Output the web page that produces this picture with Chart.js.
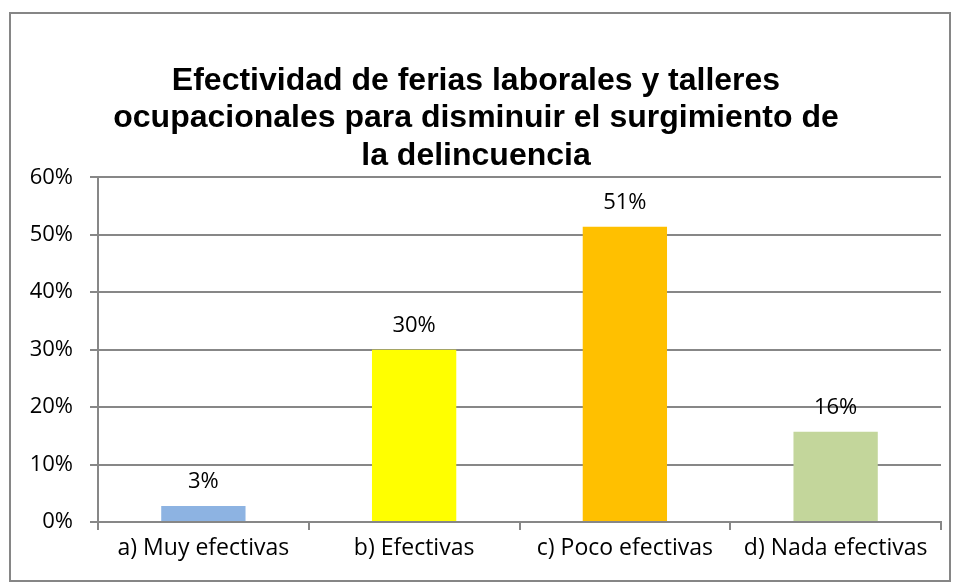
<!DOCTYPE html>
<html>
<head>
<meta charset="utf-8">
<script src="https://cdn.jsdelivr.net/npm/chart.js@4.4.0/dist/chart.umd.min.js"></script>
<style>
    body { margin: 0; background: #fff; }
    #frame {
        position: absolute; left: 9px; top: 12px;
        width: 938px; height: 566px;
        border: 2px solid #868686;
        background: #fff;
    }
</style>
</head>
<body>
<div id="frame"><canvas id="effChart"></canvas></div>
<script>
// categories and values (percent)
var categories = ['a) Muy efectivas', 'b) Efectivas', 'c) Poco efectivas', 'd) Nada efectivas'];
var values = [2.8, 30, 51.4, 15.7];
var barColours = ['#8DB3E2', '#FFFF00', '#FFC000', '#C3D69B'];
var yTicks = [0, 10, 20, 30, 40, 50, 60];
var titleLines = [
    'Efectividad de ferias laborales y talleres',
    'ocupacionales para disminuir el surgimiento de',
    'la delincuencia'
];

var gridGrey = '#878787';

// draw the value over each bar
var valueLabels = {
    id: 'valueLabels',
    afterDatasetsDraw: function(chart) {
        var ctx = chart.ctx;
        var meta = chart.getDatasetMeta(0);
        ctx.save();
        ctx.font = "22px 'Open Sans', sans-serif";
        ctx.fillStyle = '#000';
        ctx.textAlign = 'center';
        ctx.textBaseline = 'middle';
        meta.data.forEach(function(bar, i) {
            ctx.fillText(Math.round(values[i]) + '%', bar.x, bar.y - 24);
        });
        ctx.restore();
    }
};

var ctx = document.getElementById('effChart');
var myChart = new Chart(ctx, {
    type: 'bar',
    data: {
        labels: categories,
        datasets: [{
            data: values,
            backgroundColor: barColours,
            borderWidth: 0,
            barPercentage: 0.4,
            categoryPercentage: 1
        }]
    },
    options: {
        responsive: true,
        maintainAspectRatio: false,
        animation: false,
        layout: { padding: { left: 0, right: 8, top: 0, bottom: 0 } },
        plugins: {
            legend: { display: false },
            tooltip: { enabled: false },
            title: {
                display: true,
                text: titleLines,
                color: '#000',
                font: { family: "'Liberation Sans', Arial, sans-serif", size: 32, weight: 'bold', lineHeight: 1.18 },
                padding: { top: 48, bottom: 2 }
            }
        },
        scales: {
            x: {
                grid: { display: true, drawOnChartArea: false, drawTicks: true, tickLength: 8, color: gridGrey, lineWidth: 2 },
                border: { display: true, color: gridGrey, width: 2 },
                ticks: { color: '#000', font: { family: "'Open Sans', sans-serif", size: 23 }, padding: 5, maxRotation: 0, autoSkip: false },
                afterFit: function(scale) { scale.height = 58; }
            },
            y: {
                min: 0,
                max: 60,
                afterBuildTicks: function(scale) {
                    scale.ticks = yTicks.map(function(v) { return { value: v }; });
                },
                grid: { color: gridGrey, lineWidth: 2, drawTicks: true, tickLength: 8 },
                border: { display: true, color: gridGrey, width: 2 },
                ticks: {
                    color: '#000',
                    font: { family: "'Open Sans', sans-serif", size: 22 },
                    padding: 17,
                    callback: function(v) { return v + '%'; }
                },
                afterFit: function(scale) { scale.width = 87; }
            }
        }
    },
    plugins: [valueLabels]
});
</script>
</body>
</html>
